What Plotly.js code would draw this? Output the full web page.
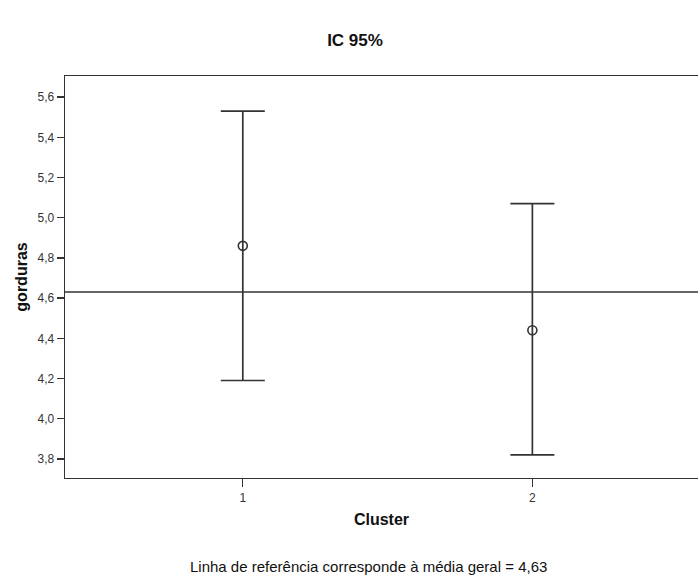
<!DOCTYPE html>
<html>
<head>
<meta charset="utf-8">
<script src="https://cdn.plot.ly/plotly-3.0.1.min.js"></script>
<style>html,body{margin:0;padding:0;background:#fff;}#chart{width:698px;height:578px;}</style>
</head>
<body>
<div id="chart"></div>
<script>
const clusters = [1, 2];
const means = [4.86, 4.44];
const upper = [5.53, 5.07];
const lower = [4.19, 3.82];
const grandMean = 4.63;
const yTicks = [3.8, 4.0, 4.2, 4.4, 4.6, 4.8, 5.0, 5.2, 5.4, 5.6];

const font = "Arial, 'Liberation Sans', sans-serif";
const ink = '#333';

const trace = {
  x: clusters,
  y: means,
  type: 'scatter',
  mode: 'markers',
  marker: {symbol: 'circle-open', size: 9, color: ink, line: {width: 1.6, color: ink}},
  error_y: {
    type: 'data', symmetric: false,
    array: means.map((m, i) => upper[i] - m),
    arrayminus: means.map((m, i) => m - lower[i]),
    color: ink, thickness: 1.7, width: 22
  },
  showlegend: false,
  hoverinfo: 'skip'
};

const layout = {
  width: 698, height: 578,
  margin: {l: 65, r: 0, t: 76, b: 100},
  paper_bgcolor: '#fff', plot_bgcolor: '#fff',
  separators: ',.',
  font: {family: font, color: '#222', size: 12},
  title: {text: '<b>IC 95%</b>', x: (355) / 698, xanchor: 'center', y: 1 - 40/578, yanchor: 'middle', yref: 'container',
          font: {family: font, size: 17, color: '#111'}},
  xaxis: {
    range: [0.386, 2.572],
    tickvals: clusters, ticktext: clusters.map(String),
    ticks: 'outside', ticklen: 8, tickcolor: ink, tickwidth: 1.3,
    showline: true, linecolor: ink, linewidth: 1.3, mirror: true,
    showgrid: false, zeroline: false,
    tickfont: {size: 12, color: '#333'},
    title: {text: '<b>Cluster</b>', standoff: 10, font: {size: 16, color: '#111'}}
  },
  yaxis: {
    range: [3.705, 5.705],
    tickvals: yTicks, tickformat: '.1f',
    ticks: 'outside', ticklen: 7, tickcolor: ink, tickwidth: 1.3,
    showline: true, linecolor: ink, linewidth: 1.3,
    showgrid: false, zeroline: false,
    tickfont: {size: 12, color: '#333'},
    title: {text: '<b>gorduras</b>', standoff: 6, font: {size: 16, color: '#111'}}
  },
  shapes: [{
    type: 'line', xref: 'paper', x0: 0, x1: 1, yref: 'y', y0: grandMean, y1: grandMean,
    line: {color: ink, width: 1.4}
  }],
  annotations: [{
    text: 'Linha de referência corresponde à média geral = ' + grandMean.toFixed(2).replace('.', ','),
    xref: 'paper', x: (368 - 65) / 633, xanchor: 'center',
    yref: 'paper', y: -(566 - 478) / 402, yanchor: 'middle',
    showarrow: false, font: {size: 15, color: '#111'}
  }]
};

Plotly.newPlot('chart', [trace], layout, {displayModeBar: false, staticPlot: true});
</script>
</body>
</html>
